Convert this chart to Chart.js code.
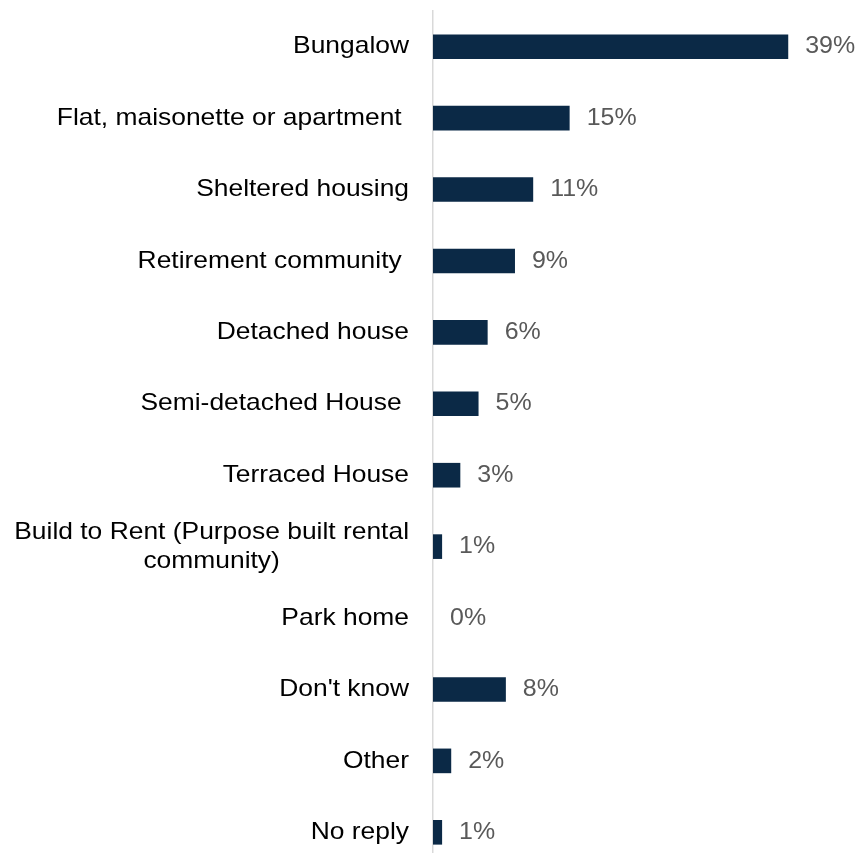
<!DOCTYPE html>
<html>
<head>
<meta charset="utf-8">
<script src="https://cdn.jsdelivr.net/npm/chart.js@4"></script>
<style>
  html, body { margin: 0; padding: 0; background: #ffffff; overflow: hidden; }
  canvas { display: block; }
</style>
</head>
<body>
<canvas id="c1" width="860" height="870"></canvas>
<script>
// Preferred type of home - share of replies
var homeTypes = [
  'Bungalow',
  'Flat, maisonette or apartment ',
  'Sheltered housing',
  'Retirement community ',
  'Detached house',
  'Semi-detached House ',
  'Terraced House',
  ['Build to Rent (Purpose built rental', 'community)'],
  'Park home',
  "Don't know",
  'Other',
  'No reply'
];
var shares = [39, 15, 11, 9, 6, 5, 3, 1, 0, 8, 2, 1];

var labelFont = '24px "Liberation Sans", Arial, sans-serif';

// text a little wider than the plain font
function stretchedText(ctx, txt, x, y, sx) {
  ctx.save();
  ctx.translate(x, y);
  ctx.scale(sx, 1);
  ctx.fillText(txt, 0, 0);
  ctx.restore();
}

// draws the category names (centred lines for wrapped ones) and the % labels
var labelPlugin = {
  id: 'labels',
  afterDatasetsDraw: function(chart) {
    var ctx = chart.ctx;
    var yScale = chart.scales.y;
    var meta = chart.getDatasetMeta(0);
    var right = chart.chartArea.left - 24;
    var sx = 1.1;
    ctx.save();
    ctx.font = labelFont;
    ctx.textBaseline = 'middle';

    // category names
    ctx.fillStyle = '#000000';
    for (var i = 0; i < homeTypes.length; i++) {
      var y = yScale.getPixelForTick(i);
      var lab = homeTypes[i];
      if (Array.isArray(lab)) {
        var widest = 0;
        for (var j = 0; j < lab.length; j++) {
          widest = Math.max(widest, ctx.measureText(lab[j]).width * sx);
        }
        var lineH = 28.5;
        var top = y - (lab.length - 1) * lineH / 2;
        ctx.textAlign = 'center';
        for (var j = 0; j < lab.length; j++) {
          stretchedText(ctx, lab[j], right - widest / 2, top + j * lineH, sx);
        }
      } else {
        ctx.textAlign = 'right';
        stretchedText(ctx, lab, right, y, sx);
      }
    }

    // value labels at the bar ends
    ctx.fillStyle = '#595959';
    ctx.textAlign = 'left';
    for (var i = 0; i < shares.length; i++) {
      var bar = meta.data[i];
      stretchedText(ctx, shares[i] + '%', bar.x + 17, bar.y, 1.04);
    }
    ctx.restore();
  }
};

var ctx = document.getElementById('c1').getContext('2d');
var chart1 = new Chart(ctx, {
  type: 'bar',
  data: {
    labels: homeTypes,
    datasets: [{
      data: shares,
      backgroundColor: '#0b2946',
      borderWidth: 0,
      categoryPercentage: 1,
      barPercentage: 0.345
    }]
  },
  options: {
    indexAxis: 'y',
    responsive: false,
    animation: false,
    layout: { padding: { left: 425, right: 8, top: 11, bottom: 2 } },
    plugins: {
      legend: { display: false },
      tooltip: { enabled: false }
    },
    scales: {
      x: { display: false, min: 0, max: 46 },
      y: {
        grid: { display: false },
        ticks: { display: false },
        border: { display: true, color: '#d9d9d9', width: 1.5 }
      }
    }
  },
  plugins: [labelPlugin]
});
</script>
</body>
</html>
